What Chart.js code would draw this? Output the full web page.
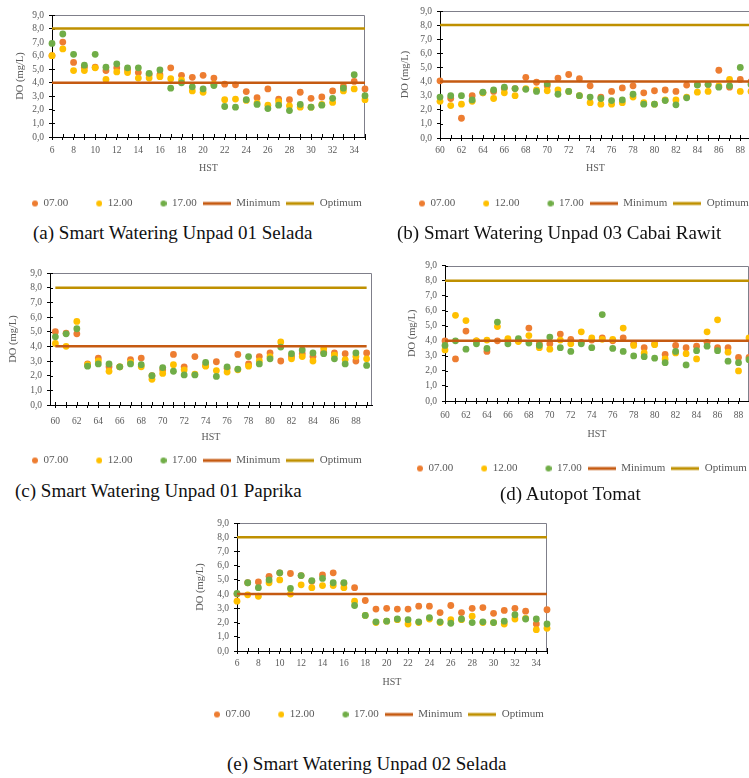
<!DOCTYPE html>
<html>
<head>
<meta charset="utf-8">
<script src="https://cdn.jsdelivr.net/npm/chart.js@4.4.1/dist/chart.umd.min.js"></script>
<style>
  body { margin: 0; background: #fff; }
  #fig { position: relative; width: 749px; height: 778px; overflow: hidden; background: #fff; }
  #fig canvas { position: absolute; }
  .cap { position: absolute; font: 19px "Liberation Serif", serif; color: #111; white-space: nowrap; line-height: 1; }
</style>
</head>
<body>
<div id="fig">
  <canvas id="chartA" width="390" height="219" style="left:4px;top:0px"></canvas>
  <canvas id="chartB" width="400" height="219" style="left:391px;top:0px"></canvas>
  <canvas id="chartC" width="390" height="221" style="left:4px;top:255px"></canvas>
  <canvas id="chartD" width="400" height="229" style="left:389px;top:255px"></canvas>
  <canvas id="chartE" width="380" height="220" style="left:186px;top:510px"></canvas>
  <div class="cap" style="left:33px;top:223px">(a) Smart Watering Unpad 01 Selada</div>
  <div class="cap" style="left:397px;top:223px">(b) Smart Watering Unpad 03 Cabai Rawit</div>
  <div class="cap" style="left:15px;top:481px">(c) Smart Watering Unpad 01 Paprika</div>
  <div class="cap" style="left:500px;top:484px">(d) Autopot Tomat</div>
  <div class="cap" style="left:227px;top:754px">(e) Smart Watering Unpad 02 Selada</div>
</div>
<script>
// series names and thresholds
var seriesLabels = ["07.00", "12.00", "17.00", "Minimum", "Optimum"];
var minimumDO = 4.0;
var optimumDO = 8.0;

// (a) Smart Watering Unpad 01 Selada
var daysA = [6, 7, 8, 9, 10, 11, 12, 13, 14, 15, 16, 17, 18, 19, 20, 21, 22, 23, 24, 25, 26, 27, 28, 29, 30, 31, 32, 33, 34, 35];
var a07 = [6.0, 7.0, 5.5, 5.15, 5.15, 4.9, 5.1, 4.95, 4.75, 4.6, 4.6, 5.1, 4.55, 4.4, 4.55, 4.35, 3.9, 3.85, 3.35, 2.9, 3.55, 2.8, 2.75, 3.3, 2.85, 2.95, 3.4, 3.75, 4.1, 3.55];
var a12 = [6.0, 6.5, 4.9, 4.9, 5.1, 4.25, 4.8, 4.75, 4.35, 4.35, 4.45, 4.3, 4.2, 3.4, 3.3, 3.9, 2.75, 2.8, 2.7, 2.5, 2.35, 2.6, 2.3, 2.2, 2.2, 2.4, 2.55, 3.4, 3.55, 2.75];
var a17 = [6.9, 7.6, 6.1, 5.3, 6.1, 5.15, 5.4, 5.1, 5.1, 4.7, 4.95, 3.6, 4.0, 3.7, 3.55, 3.8, 2.25, 2.2, 2.75, 2.4, 2.1, 2.35, 1.95, 2.4, 2.2, 2.35, 2.85, 3.6, 4.6, 3.05];

// (b) Smart Watering Unpad 03 Cabai Rawit
var daysB = [60, 61, 62, 63, 64, 65, 66, 67, 68, 69, 70, 71, 72, 73, 74, 75, 76, 77, 78, 79, 80, 81, 82, 83, 84, 85, 86, 87, 88, 89];
var b07 = [4.05, 2.8, 1.4, 3.0, 3.2, 3.3, 3.5, 3.5, 4.3, 3.95, 3.7, 4.25, 4.5, 4.2, 3.7, 2.9, 3.3, 3.55, 3.7, 3.2, 3.35, 3.4, 3.3, 3.75, 3.8, 3.8, 4.8, 3.6, 4.15, 4.0];
var b12 = [2.6, 2.3, 2.4, 2.6, 3.2, 2.8, 3.2, 3.0, 3.5, 3.4, 3.35, 3.4, 3.3, 3.0, 2.5, 2.4, 2.4, 2.5, 2.9, 2.5, 2.4, 2.7, 2.7, 2.9, 3.25, 3.3, 3.7, 4.15, 3.3, 3.3];
var b17 = [2.9, 3.0, 3.0, 2.7, 3.25, 3.4, 3.6, 3.5, 3.45, 3.3, 3.85, 3.1, 3.3, 3.0, 2.9, 2.8, 2.65, 2.7, 3.1, 2.4, 2.4, 2.65, 2.35, 2.85, 3.75, 3.8, 3.6, 3.7, 5.0, 3.8];

// (c) Smart Watering Unpad 01 Paprika
var daysC = [60, 61, 62, 63, 64, 65, 66, 67, 68, 69, 70, 71, 72, 73, 74, 75, 76, 77, 78, 79, 80, 81, 82, 83, 84, 85, 86, 87, 88, 89];
var c07 = [5.0, 4.9, 4.85, 2.8, 3.2, 2.6, 2.6, 3.1, 3.2, 2.0, 2.4, 3.45, 2.6, 3.3, 2.7, 2.95, 2.5, 3.45, 2.8, 3.3, 3.55, 3.0, 3.3, 3.5, 3.3, 3.6, 3.55, 3.5, 3.0, 3.55];
var c12 = [4.2, 4.0, 5.7, 2.75, 3.0, 2.3, 2.6, 2.9, 2.6, 1.75, 2.15, 2.75, 2.4, 2.1, 2.65, 2.35, 2.25, 2.4, 2.65, 3.0, 3.3, 4.3, 3.15, 3.3, 3.0, 3.85, 3.4, 3.1, 3.3, 3.15];
var c17 = [4.65, 4.85, 5.2, 2.65, 2.8, 2.8, 2.6, 2.8, 2.75, 2.0, 2.55, 2.3, 2.05, 2.05, 2.9, 1.95, 2.6, 2.45, 3.3, 2.8, 3.15, 3.95, 3.5, 3.75, 3.55, 3.5, 3.15, 2.8, 3.55, 2.7];

// (d) Autopot Tomat
var daysD = [60, 61, 62, 63, 64, 65, 66, 67, 68, 69, 70, 71, 72, 73, 74, 75, 76, 77, 78, 79, 80, 81, 82, 83, 84, 85, 86, 87, 88, 89];
var d07 = [4.0, 2.8, 4.65, 4.0, 3.3, 4.0, 4.0, 4.0, 4.85, 3.8, 3.8, 4.45, 4.1, 3.9, 4.05, 4.2, 4.0, 4.2, 3.8, 3.55, 3.8, 3.1, 3.7, 3.55, 3.65, 3.9, 3.55, 3.55, 2.9, 2.9];
var d12 = [3.4, 5.7, 5.35, 4.0, 4.05, 4.95, 4.15, 3.95, 4.35, 3.55, 3.45, 4.05, 3.8, 4.6, 4.2, 4.1, 4.1, 4.85, 3.7, 3.2, 3.75, 2.8, 3.2, 3.15, 2.8, 4.6, 5.4, 3.25, 2.0, 4.2];
var d17 = [3.7, 4.0, 3.45, 3.8, 3.5, 5.25, 3.8, 4.15, 3.85, 3.7, 4.25, 3.55, 3.3, 3.8, 3.55, 5.75, 3.5, 3.3, 3.0, 2.95, 2.85, 2.55, 3.3, 2.4, 3.35, 3.65, 3.35, 2.65, 2.55, 2.75];

// (e) Smart Watering Unpad 02 Selada
var daysE = [6, 7, 8, 9, 10, 11, 12, 13, 14, 15, 16, 17, 18, 19, 20, 21, 22, 23, 24, 25, 26, 27, 28, 29, 30, 31, 32, 33, 34, 35];
var e07 = [4.0, 4.8, 4.85, 5.25, 5.5, 5.45, 5.3, 4.9, 5.35, 5.5, 4.75, 4.45, 3.55, 2.95, 3.0, 2.95, 2.95, 3.15, 3.15, 2.7, 3.2, 2.7, 3.0, 3.05, 2.65, 2.85, 3.0, 2.8, 1.9, 2.9];
var e12 = [3.5, 3.95, 3.85, 4.8, 5.0, 4.0, 4.65, 4.45, 4.6, 4.6, 4.45, 3.5, 2.5, 2.0, 2.1, 2.2, 1.9, 2.0, 2.25, 2.0, 2.2, 2.2, 2.45, 2.0, 2.0, 1.9, 2.25, 2.3, 1.5, 1.6];
var e17 = [4.05, 4.8, 4.45, 5.0, 5.5, 4.4, 5.3, 4.95, 5.1, 4.8, 4.8, 3.2, 2.5, 2.05, 2.1, 2.25, 2.2, 2.05, 2.35, 2.05, 1.95, 2.25, 2.0, 2.05, 2.0, 2.1, 2.55, 2.25, 2.25, 1.9];

var colors = ["#ED7D31", "#FFC000", "#70AD47", "#C55A11", "#BF9000"];
var textColor = "#595959";
var serif = "'Liberation Serif', 'Times New Roman', serif";

Chart.defaults.font.family = serif;

// small legend icons: dots for the readings, bars for the limits
function circleIcon(color) {
  var c = document.createElement("canvas");
  c.width = 28; c.height = 8;
  var g = c.getContext("2d");
  g.fillStyle = color;
  g.beginPath();
  g.arc(25, 4, 3, 0, Math.PI * 2);
  g.fill();
  return c;
}
function lineIcon(color) {
  var c = document.createElement("canvas");
  c.width = 28; c.height = 8;
  var g = c.getContext("2d");
  g.fillStyle = color;
  g.fillRect(0, 2.5, 28, 3);
  return c;
}
var legendIcons = [circleIcon(colors[0]), circleIcon(colors[1]), circleIcon(colors[2]), lineIcon(colors[3]), lineIcon(colors[4])];

// plot frame (grey top/right) and the inner half of the cross tick marks
var frame = {
  id: "frame",
  beforeDatasetsDraw: function (chart) {
    var ctx = chart.ctx, a = chart.chartArea, x = chart.scales.x, y = chart.scales.y;
    ctx.save();
    ctx.strokeStyle = "#7f7f8a";
    ctx.lineWidth = 1;
    ctx.beginPath();
    ctx.moveTo(a.left, Math.round(a.top) + 0.5);
    ctx.lineTo(Math.round(a.right) - 0.5, Math.round(a.top) + 0.5);
    ctx.lineTo(Math.round(a.right) - 0.5, a.bottom);
    ctx.stroke();
    ctx.strokeStyle = "#000";
    ctx.beginPath();
    x.ticks.forEach(function (t, i) {
      var px = Math.round(x.getPixelForTick(i)) + 0.5;
      ctx.moveTo(px, a.bottom);
      ctx.lineTo(px, a.bottom - 3);
    });
    y.ticks.forEach(function (t, i) {
      var py = Math.round(y.getPixelForTick(i)) + 0.5;
      ctx.moveTo(a.left, py);
      ctx.lineTo(a.left + 3, py);
    });
    ctx.stroke();
    ctx.restore();
  }
};

function makePanel(id, days, s07, s12, s17, g) {
  var datasets = [s07, s12, s17].map(function (values, i) {
    return {
      label: seriesLabels[i],
      data: values,
      showLine: false,
      backgroundColor: colors[i],
      borderColor: colors[i],
      pointRadius: 3.4,
      pointBorderWidth: 0,
      order: 5 - i,
      clip: false
    };
  });
  [minimumDO, optimumDO].forEach(function (value, k) {
    datasets.push({
      label: seriesLabels[3 + k],
      data: days.map(function () { return value; }),
      borderColor: colors[3 + k],
      backgroundColor: colors[3 + k],
      borderWidth: 2.5,
      pointRadius: 0,
      order: 2 - k,
      clip: false
    });
  });

  new Chart(document.getElementById(id), {
    type: "line",
    data: { labels: days, datasets: datasets },
    plugins: [frame],
    options: {
      responsive: false,
      animation: false,
      events: [],
      layout: { padding: { top: g.padTop, left: 0, right: 0, bottom: 0 } },
      plugins: {
        tooltip: { enabled: false },
        legend: {
          position: "bottom",
          align: "start",
          labels: {
            usePointStyle: true,
            pointStyleWidth: 28,
            padding: 6,
            color: textColor,
            font: { family: serif, size: 11 },
            generateLabels: function (chart) {
              var items = Chart.defaults.plugins.legend.labels.generateLabels(chart);
              items.sort(function (p, q) { return p.datasetIndex - q.datasetIndex; });
              items.forEach(function (it) { it.pointStyle = legendIcons[it.datasetIndex]; });
              return items;
            }
          }
        }
      },
      scales: {
        x: {
          type: "category",
          offset: g.offset,
          grid: { drawOnChartArea: false, tickLength: 3, color: "#000" },
          border: { color: "#000" },
          ticks: {
            autoSkip: false,
            maxRotation: 0,
            padding: g.tickPad,
            color: textColor,
            font: { family: serif, size: 9.5 },
            callback: function (v, i) { return i % 2 === 0 ? String(days[i]) : ""; }
          },
          title: { display: true, text: "HST", color: textColor, font: { family: serif, size: 10 }, padding: { top: 0, bottom: g.titlePad } },
          afterFit: function (s) { s.height = g.xAxisH; }
        },
        y: {
          min: 0,
          max: 9,
          grid: { drawOnChartArea: false, tickLength: 3, color: "#000" },
          border: { color: "#000" },
          ticks: {
            stepSize: 1,
            autoSkip: false,
            padding: 5,
            color: textColor,
            font: { family: serif, size: 9.5 },
            callback: function (v) { return v.toFixed(1).replace(".", ","); }
          },
          title: { display: true, text: "DO (mg/L)", color: textColor, font: { family: serif, size: 10.5 }, padding: { top: g.yTitlePad, bottom: 0 } },
          afterFit: function (s) { s.width = g.yAxisW; }
        },
        y2: {
          position: "right",
          grid: { display: false },
          border: { display: false },
          ticks: { display: false },
          afterFit: function (s) { s.width = g.rightW; }
        }
      }
    }
  });
}

makePanel("chartA", daysA, a07, a12, a17, { padTop: 15, yAxisW: 48, rightW: 29, xAxisH: 55, offset: false, tickPad: 5, titlePad: 18, yTitlePad: 10 });
makePanel("chartB", daysB, b07, b12, b17, { padTop: 11, yAxisW: 49, rightW: 40, xAxisH: 54, offset: false, tickPad: 4, titlePad: 18, yTitlePad: 8 });
makePanel("chartC", daysC, c07, c12, c17, { padTop: 18, yAxisW: 46, rightW: 22, xAxisH: 44, offset: true, tickPad: 8, titlePad: 6, yTitlePad: 3 });
makePanel("chartD", daysD, d07, d12, d17, { padTop: 10, yAxisW: 56, rightW: 40, xAxisH: 56, offset: false, tickPad: 6, titlePad: 17, yTitlePad: 17 });
makePanel("chartE", daysE, e07, e12, e17, { padTop: 13, yAxisW: 51, rightW: 19, xAxisH: 52, offset: false, tickPad: 4, titlePad: 15, yTitlePad: 8 });
</script>
</body>
</html>
